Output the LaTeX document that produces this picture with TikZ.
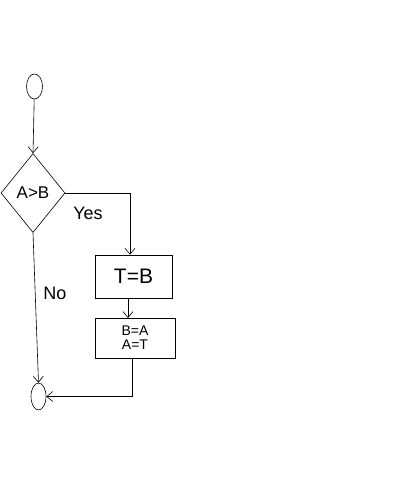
\documentclass[tikz,border=0pt]{standalone}
\usepackage{fontspec}
\setmainfont{Liberation Sans}
\usetikzlibrary{shapes.geometric,arrows.meta}
\begin{document}
\begin{tikzpicture}[x=1pt,y=-1pt,
  line/.style={draw=black,line width=0.6pt},
  arr/.style={line,-{Straight Barb[length=6pt,width=10pt]}},
  term/.style={line,ellipse,minimum width=16pt,minimum height=25pt,inner sep=0pt},
  dec/.style={line,diamond,minimum width=64pt,minimum height=79pt,inner sep=0pt,font=\fontsize{17}{17}\selectfont},
  proc/.style={line,rectangle,inner sep=0pt},
  lbl/.style={font=\fontsize{18}{18}\selectfont}]
\useasboundingbox (0,0) rectangle (400,480);
\node[term] (start) at (34.5,86.5) {};
\node[dec] (cond) at (33,193) {A>B};
\node[proc,minimum width=77pt,minimum height=43pt,font=\fontsize{21}{21}\selectfont] (tb) at (133.5,276.5) {T=B};
\node[proc,minimum width=80pt,minimum height=40pt,align=center,font=\fontsize{14}{14}\selectfont] (ba) at (135,338) {B=A\\A=T};
\node[term,minimum width=15pt,minimum height=27pt] (stop) at (38.5,396.5) {};
\coordinate (ycorner) at (130,193);
\coordinate (rcorner) at (132,396.5);
\draw[arr] (start) -- (cond.north);
\draw[arr] (cond.east) -- (ycorner) -- (ycorner |- tb.north);
\draw[arr] (128,298) -- (128,318);
\draw[arr] (ba.south -| rcorner) -- (rcorner) -- (stop.east);
\draw[arr] (cond.south) -- (stop.north);
\node[lbl] (yes) at (88,213) {Yes};
\node[lbl] (no) at (55,293) {No};
\end{tikzpicture}
\end{document}
